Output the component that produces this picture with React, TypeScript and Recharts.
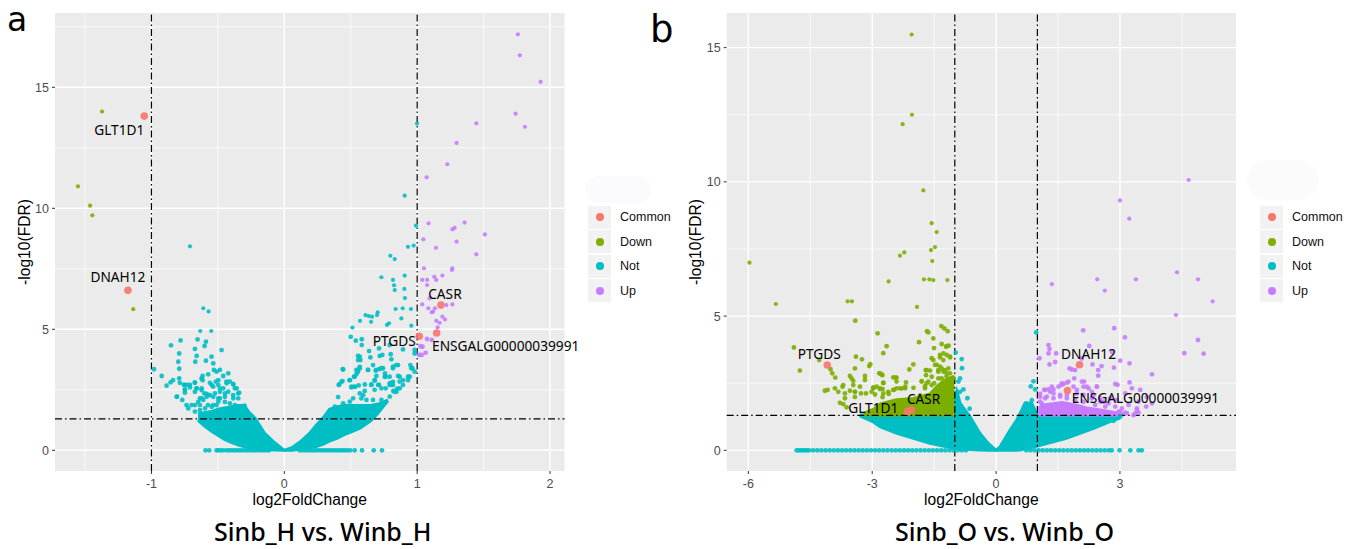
/**
 * Two volcano plots. Outlying genes are read point by point; the overplotted
 * mass of each wing, where single points can't be told apart, is read as an
 * envelope (x, lower, upper) and drawn as a range Area.
 */

import { Area, CartesianGrid, ComposedChart, Legend, ReferenceLine, Scatter, XAxis, YAxis } from 'recharts';

type Pair = number[];

const COLORS: Record<string, string> = { Common: '#F8766D', Down: '#7CAE00', Not: '#00BFC4', Up: '#C77CFF' };
const LEGEND_NAMES = ['Common', 'Down', 'Not', 'Up'];

// Panel a: Sinb_H vs. Winb_H
const A_X_TICKS = [-1, 0, 1, 2];
const A_X_MINOR = [-1.5, -0.5, 0.5, 1.5];
const A_Y_TICKS = [0, 5, 10, 15];
const A_Y_MINOR = [2.5, 7.5, 12.5, 17.5];
const A_DOWN: Pair[] = [[-1.372, 14.0], [-1.553, 10.91], [-1.462, 10.11], [-1.445, 9.71], [-1.137, 5.83]];
const A_UP: Pair[] = [
  [1.758, 17.19], [1.773, 16.32], [1.929, 15.22], [1.741, 13.91], [1.811, 13.37], [1.445, 13.51], [1.297, 12.7],
  [1.227, 11.82], [1.071, 11.28], [1.086, 9.38], [1.357, 9.41], [1.282, 9.19], [1.265, 9.13], [1.51, 8.92],
  [1.047, 8.72], [1.297, 8.62], [1.141, 8.37], [1.445, 8.1], [1.051, 7.52], [1.265, 7.52], [1.19, 7.22],
  [1.262, 7.45], [1.129, 7.17], [1.038, 7.04], [1.075, 7.04], [1.143, 7.04], [1.075, 6.83], [1.094, 6.28],
  [1.038, 6.03], [1.22, 6.0], [1.265, 6.03], [1.084, 5.87], [1.134, 5.87], [1.12, 5.73], [1.11, 5.7],
  [1.19, 5.52], [1.209, 5.41], [1.144, 5.35], [1.169, 5.27], [1.154, 5.08], [1.074, 4.6], [1.11, 4.56],
  [1.04, 4.28], [1.024, 4.3], [1.064, 4.03], [1.034, 3.94], [1.014, 3.94],
];
const A_NOT_RIGHT: Pair[] = [
  [0.999, 13.5], [0.906, 10.52], [0.991, 9.28], [0.974, 8.46], [0.931, 8.41], [0.798, 8.04], [0.831, 7.9],
  [0.731, 7.15], [0.906, 7.22], [0.818, 7.04], [0.826, 6.82], [0.831, 6.62], [0.904, 6.67], [0.908, 6.29],
  [0.838, 5.84], [0.891, 5.87], [0.953, 5.84], [0.703, 5.7], [0.611, 5.59], [0.635, 5.55], [0.66, 5.52], [0.698, 5.59],
  [0.57, 5.35], [0.653, 5.31], [0.773, 5.18], [0.788, 5.25], [0.881, 5.45], [0.956, 5.15], [0.513, 5.07], [0.5, 4.69],
  [0.538, 4.53], [0.583, 4.59], [0.583, 4.35], [0.638, 4.1], [0.713, 4.21], [0.793, 4.35], [0.893, 4.17], [0.981, 4.15],
  [0.555, 3.9], [0.573, 3.73], [0.648, 3.84], [0.718, 3.9], [0.738, 3.94], [0.801, 3.97], [0.806, 3.76], [0.981, 4.0],
  [0.44, 3.35], [0.568, 3.45], [0.555, 3.32], [0.543, 3.15], [0.525, 3.04], [0.492, 2.9], [0.43, 2.83], [0.41, 2.7],
  [0.63, 3.32], [0.688, 3.29], [0.718, 3.36], [0.743, 3.39], [0.758, 3.18], [0.693, 3.07], [0.68, 2.88], [0.655, 2.7],
  [0.713, 2.7], [0.763, 3.04], [0.793, 3.04], [0.806, 2.77], [0.793, 2.7], [0.818, 2.7], [0.856, 3.07], [0.843, 3.52],
  [0.818, 3.46], [0.949, 3.52], [0.964, 3.39], [0.981, 3.25], [0.931, 3.04], [0.868, 2.84], [0.893, 2.7], [0.505, 2.6],
  [0.53, 2.62], [0.56, 2.68], [0.605, 2.45], [0.68, 2.5], [0.82, 2.45], [0.85, 2.55],
  [0.405, 2.2], [0.443, 1.94], [0.493, 2.01], [0.568, 2.35], [0.593, 2.28], [0.618, 2.08], [0.58, 2.15], [0.668, 2.08],
  [0.731, 2.08], [0.518, 2.15], [0.38, 1.8], [0.794, 2.22], [0.831, 2.42], [0.869, 2.56], [0.413, 2.72], [0.438, 2.86],
  [0.493, 2.9], [0.53, 3.04], [0.555, 3.25], [0.568, 3.39], [0.543, 3.32], [0.443, 3.34], [0.555, 3.73], [0.568, 3.87],
  [0.63, 3.32], [0.668, 3.52], [0.693, 3.32], [0.731, 3.39], [0.756, 3.04], [0.681, 2.9], [0.706, 2.7], [0.731, 2.56],
  [0.794, 2.77], [0.806, 2.7], [0.818, 2.83], [0.869, 3.04], [0.894, 2.9], [0.931, 2.9], [0.856, 3.52], [0.818, 3.39],
  [0.53, 2.63], [0.505, 2.63], [0.606, 2.72], [0.656, 2.72], [0.763, 2.56], [0.844, 2.42], [0.944, 3.04], [0.956, 3.39],
];
const A_NOT_LEFT: Pair[] = [
  [-0.71, 8.43], [-0.981, 3.35], [-0.923, 3.07], [-0.886, 2.67], [-0.856, 2.81], [-0.838, 2.9], [-0.853, 4.34], [-0.781, 4.54],
  [-0.791, 4.0], [-0.798, 3.66], [-0.791, 3.37], [-0.791, 2.97], [-0.786, 2.79], [-0.756, 2.7], [-0.728, 2.7],
  [-0.71, 2.6], [-0.748, 2.52], [-0.748, 2.38], [-0.808, 2.22], [-0.768, 2.08], [-0.736, 1.87], [-0.723, 1.73],
  [-0.673, 1.87], [-0.61, 5.87], [-0.57, 5.74], [-0.633, 4.93], [-0.55, 4.93], [-0.653, 4.58], [-0.59, 4.49],
  [-0.6, 4.31], [-0.673, 4.19], [-0.472, 4.14], [-0.66, 3.9], [-0.548, 3.87], [-0.67, 3.66], [-0.59, 3.7],
  [-0.535, 3.59], [-0.53, 3.32], [-0.573, 3.14], [-0.615, 3.07], [-0.623, 2.97], [-0.615, 2.9], [-0.51, 3.25],
  [-0.485, 3.32], [-0.422, 3.18], [-0.46, 3.07], [-0.497, 2.9], [-0.515, 2.84], [-0.435, 2.84], [-0.41, 2.84],
  [-0.56, 2.79], [-0.535, 2.63], [-0.673, 2.79], [-0.66, 2.56], [-0.673, 2.42], [-0.623, 2.49], [-0.485, 2.56],
  [-0.385, 2.74], [-0.372, 2.56], [-0.34, 2.38], [-0.447, 2.35], [-0.585, 2.33], [-0.56, 2.28], [-0.635, 2.15],
  [-0.61, 2.08], [-0.347, 2.15], [-0.385, 2.28], [-0.485, 2.15], [-0.497, 2.01], [-0.41, 1.94], [-0.535, 1.87],
  [-0.575, 1.87], [-0.635, 1.87], [-0.3, 1.85], [-0.32, 1.65],
  [-0.81, 2.21], [-0.698, 1.87], [-0.648, 2.0], [-0.622, 2.15], [-0.585, 2.21], [-0.535, 2.21], [-0.497, 2.15],
  [-0.447, 2.21], [-0.384, 2.15], [-0.51, 1.87], [-0.447, 2.0], [-0.372, 1.87], [-0.322, 1.8], [-0.597, 1.73],
  [-0.547, 1.8], [-0.673, 1.6], [-0.635, 1.66], [-0.497, 2.7], [-0.434, 2.77], [-0.46, 2.56], [-0.485, 2.42],
  [-0.422, 2.42], [-0.547, 2.7], [-0.622, 2.56], [-0.66, 2.56], [-0.673, 2.81], [-0.748, 2.7], [-0.71, 2.7],
  [-0.748, 2.49], [-0.359, 2.56], [-0.384, 2.72], [-0.347, 2.35], [-0.572, 2.28], [-0.602, 2.35], [-0.522, 2.35],
];
const A_ZERO_X = [
  -0.593, -0.565, -0.51, -0.497, -0.48, -0.46, -0.435, -0.415, -0.395, -0.375, -0.355, -0.335, -0.315, -0.295, -0.275,
  -0.255, -0.235, -0.215, -0.195, -0.175, -0.155, -0.135, -0.115, 0.115, 0.135, 0.155, 0.175, 0.195, 0.215, 0.235,
  0.255, 0.275, 0.295, 0.315, 0.335, 0.355, 0.375, 0.395, 0.415, 0.435, 0.455, 0.475, 0.497, 0.53, 0.585, 0.673, 0.735,
];
const A_COMMON = [
  { name: 'GLT1D1', x: -1.054, y: 13.81 },
  { name: 'DNAH12', x: -1.177, y: 6.61 },
  { name: 'CASR', x: 1.179, y: 6.0 },
  { name: 'PTGDS', x: 1.016, y: 4.71 },
  { name: 'ENSGALG00000039991', x: 1.147, y: 4.85 },
];
// x, lower edge, upper edge of the solid mass
const A_NOT_MASS: Pair[] = [
  [-0.65, 1.25, 1.5], [-0.6, 1.0, 1.55], [-0.55, 0.8, 1.6], [-0.5, 0.62, 1.7], [-0.45, 0.45, 1.75], [-0.4, 0.33, 1.8],
  [-0.35, 0.23, 1.85], [-0.3, 0.15, 1.85], [-0.27, 0.11, 1.6], [-0.22, 0.07, 1.33], [-0.15, 0.03, 0.71], [-0.07, 0.01, 0.3],
  [0, 0, 0], [0.06, 0, 0.12], [0.12, 0.05, 0.35], [0.19, 0.1, 0.7], [0.24, 0.16, 1.04], [0.29, 0.25, 1.32], [0.34, 0.38, 1.7],
  [0.4, 0.5, 1.8], [0.45, 0.65, 1.85], [0.5, 0.75, 1.85], [0.57, 0.91, 1.85], [0.65, 1.22, 1.85], [0.7, 1.5, 1.9],
  [0.75, 1.85, 2.0], [0.78, 2.05, 2.08],
];

// Panel b: Sinb_O vs. Winb_O
const B_X_TICKS = [-6, -3, 0, 3];
const B_X_MINOR = [-4.5, -1.5, 1.5, 4.5];
const B_Y_TICKS = [0, 5, 10, 15];
const B_Y_MINOR = [2.5, 7.5, 12.5];
const B_DOWN: Pair[] = [
  [-2.045, 15.49], [-2.037, 12.5], [-2.263, 12.15], [-1.762, 9.68], [-1.56, 8.46], [-1.439, 8.13], [-1.479, 7.57],
  [-1.576, 7.46], [-2.223, 7.37], [-2.328, 7.25], [-1.544, 7.05], [-5.972, 6.99], [-1.746, 6.37], [-1.616, 6.37],
  [-1.52, 6.34], [-1.18, 6.34], [-2.602, 6.29], [-5.334, 5.45], [-3.596, 5.55], [-3.491, 5.55], [-1.915, 5.34],
  [-3.41, 4.83], [-1.326, 4.63], [-1.253, 4.54], [-1.172, 4.44], [-1.673, 4.44], [-1.641, 4.39], [-2.869, 4.36],
  [-1.52, 4.17], [-1.867, 4.03], [-1.318, 3.96], [-1.196, 3.88], [-1.148, 3.9], [-1.503, 3.81], [-2.651, 3.88],
  [-4.897, 3.83], [-2.732, 3.62], [-3.394, 3.49], [-3.249, 3.39], [-4.283, 3.36], [-4.752, 2.97], [-3.047, 3.21],
  [-3.071, 3.14], [-4.009, 3.02], [-3.968, 2.87], [-3.895, 2.71], [-3.419, 3.05], [-2.813, 2.87], [-2.772, 2.83],
  [-3.176, 2.77], [-3.54, 2.77], [-3.5, 2.68], [-3.459, 2.59], [-3.176, 2.62], [-2.732, 2.52], [-2.489, 2.72],
  [-2.41, 2.71], [-2.41, 2.56], [-2.101, 3.01], [-2.004, 3.2], [-1.802, 2.56], [-1.705, 2.99], [-1.6, 2.97],
  [-1.722, 2.39], [-1.641, 2.56], [-1.56, 3.43], [-1.358, 3.46], [-1.277, 3.36], [-1.196, 3.55], [-1.116, 3.49],
  [-1.439, 3.18], [-1.398, 2.99], [-1.237, 2.99], [-1.318, 3.05], [-1.116, 2.87], [-1.035, 2.68], [-3.702, 2.43],
  [-3.718, 2.37], [-3.903, 2.31], [-3.822, 2.18], [-3.54, 2.22], [-3.419, 2.18], [-3.297, 2.37], [-4.146, 2.22],
  [-4.081, 2.25], [-3.661, 2.12], [-3.661, 1.94], [-3.419, 1.99], [-3.782, 1.77], [-3.701, 1.72], [-2.974, 2.34],
  [-2.893, 2.37], [-2.813, 2.28], [-2.748, 2.28], [-3.014, 2.18], [-3.62, 1.6], [-2.48, 2.25], [-2.32, 2.31],
  [-2.2, 2.37], [-2.0, 2.33], [-1.84, 2.05], [-2.6, 2.1], [-2.75, 1.98], [-1.5, 2.5], [-1.2, 2.75], [-1.4, 2.3],
  [-2.973, 2.31], [-2.812, 2.31], [-2.731, 2.5], [-2.828, 2.87], [-2.755, 2.8], [-2.448, 2.71], [-2.408, 2.31],
  [-2.286, 2.31], [-2.206, 2.31], [-2.181, 2.53], [-1.802, 2.58], [-1.68, 2.99], [-1.697, 2.8], [-1.559, 2.74],
  [-1.68, 2.5], [-1.559, 2.43], [-1.721, 2.31], [-1.398, 2.93], [-1.276, 2.93], [-1.155, 3.05], [-1.398, 2.68],
  [-1.317, 2.68], [-1.236, 2.56], [-1.478, 3.18], [-1.357, 3.12], [-1.195, 2.87], [-1.519, 3.36], [-1.357, 3.55],
  [-1.276, 3.61], [-1.115, 3.46], [-1.212, 3.86], [-3.458, 2.43], [-3.418, 2.18], [-3.272, 2.12], [-3.151, 2.12],
  [-2.933, 2.08], [-2.731, 2.12], [-2.61, 2.18], [-2.489, 2.25],
];
const B_UP: Pair[] = [
  [4.663, 10.07], [3.0, 9.31], [3.224, 8.63], [1.35, 6.19], [2.449, 6.37], [3.386, 6.37], [4.38, 6.63], [4.889, 6.37],
  [2.634, 5.95], [5.245, 5.55], [4.356, 5.04], [2.109, 4.47], [2.861, 4.55], [3.119, 4.21], [4.889, 4.11], [2.255, 3.89],
  [1.269, 3.92], [1.293, 3.77], [1.269, 3.61], [1.455, 3.61], [2.804, 3.67], [4.558, 3.62], [5.026, 3.6], [1.05, 3.43],
  [1.43, 3.29], [1.293, 3.2], [2.077, 3.42], [2.335, 3.2], [2.554, 3.14], [2.473, 2.99], [2.473, 2.78], [2.853, 3.08],
  [3.006, 3.34], [3.232, 3.24], [3.774, 2.83], [1.778, 3.05], [1.834, 3.01], [1.915, 2.99], [1.891, 2.68], [2.133, 2.56],
  [3.232, 2.53], [2.885, 2.47], [2.941, 2.44], [1.753, 2.56], [1.632, 2.47], [1.576, 2.43], [1.349, 2.37], [1.269, 2.27],
  [1.164, 2.25], [1.067, 2.1], [2.117, 2.37], [2.238, 2.31], [2.44, 2.37], [1.956, 2.25], [3.289, 2.31], [3.491, 2.25],
  [3.127, 2.12], [3.653, 1.99], [3.774, 1.75], [3.45, 1.81], [3.636, 1.63], [3.41, 1.56], [3.329, 1.31], [3.45, 1.4],
  [3.006, 1.44], [3.127, 1.4], [2.602, 1.81], [2.764, 1.94], [2.925, 1.87], [2.36, 2.06], [2.52, 1.94], [1.39, 2.12],
  [1.551, 2.06], [1.713, 2.06], [1.107, 1.75], [1.228, 2.0],
  [1.067, 2.0], [1.188, 2.25], [1.309, 2.18], [1.39, 2.27], [1.592, 2.49], [1.713, 2.52], [1.511, 2.37], [1.875, 2.37],
  [2.077, 2.56], [2.198, 2.37], [2.441, 2.37], [1.956, 2.12], [2.117, 2.06], [2.319, 2.18], [1.067, 1.81], [1.188, 1.94],
  [1.39, 1.94], [1.552, 2.0], [1.713, 1.94], [1.915, 1.87], [2.117, 1.81], [2.319, 1.94], [2.521, 1.81], [2.723, 1.75],
  [2.885, 1.63], [3.047, 1.56], [3.208, 1.69], [3.41, 1.5], [3.37, 1.38], [2.966, 1.44], [2.643, 1.63], [2.4, 1.69],
  [3.168, 1.38],
];
const B_NOT: Pair[] = [
  [0.97, 4.39], [0.905, 2.57], [0.84, 2.38], [0.945, 2.27], [0.865, 1.87], [0.727, 1.75], [0.679, 1.62],
  [-0.978, 3.64], [-0.833, 3.4], [-0.825, 3.06], [-0.873, 2.68], [-0.913, 2.56], [-0.792, 2.27], [-0.873, 2.18],
  [-0.695, 1.94], [-0.64, 1.55], [2.844, 1.1], [3.006, 1.25],
];
const B_ZERO_X = [
  -4.83, -4.78, -4.73, -4.68, -4.63, -4.58, -4.53, -4.43, -4.33, -4.23, -4.13, -4.03, -3.93, -3.83, -3.73, -3.63, -3.53,
  -3.43, -3.33, -3.23, -3.13, -3.03, -2.93, -2.83, -2.73, -2.63, -2.53, -2.43, -2.33, -2.23, -2.13, -2.03, -1.93, -1.83,
  -1.73, -1.63, -1.53, -1.43, -1.33, -1.23, -1.13, -1.03, -0.93, -0.83, -0.73, 0.73, 0.83, 0.93, 1.03, 1.13, 1.23, 1.33,
  1.43, 1.53, 1.63, 1.73, 1.83, 1.93, 2.03, 2.13, 2.23, 2.33, 2.43, 2.53, 2.63, 2.73, 2.8, 2.99, 3.25, 3.45, 3.53,
];
const B_COMMON = [
  { name: 'PTGDS', x: -4.089, y: 3.18 },
  { name: 'GLT1D1', x: -2.15, y: 1.45 },
  { name: 'CASR', x: -2.045, y: 1.5 },
  { name: 'DNAH12', x: 2.02, y: 3.19 },
  { name: 'ENSGALG00000039991', x: 1.729, y: 2.23 },
];
const B_NOT_MASS: Pair[] = [
  [-3.3, 1.28, 1.32], [-3.0, 1.08, 1.32], [-2.8, 0.87, 1.32], [-2.4, 0.63, 1.32], [-2.0, 0.45, 1.32], [-1.6, 0.26, 1.32],
  [-1.2, 0.13, 1.32], [-1.0, 0.09, 1.9], [-0.95, 0.08, 2.2], [-0.87, 0.06, 1.75], [-0.63, 0.03, 1.25], [-0.39, 0.01, 0.63],
  [-0.19, 0, 0.26], [0, 0, 0], [0.1, 0, 0.14], [0.34, 0, 0.76], [0.5, 0, 1.13], [0.62, 0.02, 1.5], [0.7, 0.07, 1.75],
  [0.86, 0.1, 1.75], [1.0, 0.16, 1.32], [1.7, 0.45, 1.32], [2.36, 0.82, 1.32], [2.76, 1.07, 1.3], [3.0, 1.2, 1.34],
];
const B_DOWN_MASS: Pair[] = [
  [-3.2, 1.3, 1.4], [-2.97, 1.3, 1.55], [-2.81, 1.3, 1.75], [-2.41, 1.3, 1.9], [-2.0, 1.3, 1.95], [-1.6, 1.3, 2.12],
  [-1.44, 1.3, 2.4], [-1.28, 1.3, 2.6], [-1.12, 1.3, 2.72], [-1.01, 1.3, 2.78],
];
const B_UP_MASS: Pair[] = [
  [1.02, 1.3, 1.55], [1.1, 1.3, 1.7], [1.6, 1.3, 1.8], [1.95, 1.3, 1.7], [2.2, 1.3, 1.6], [2.6, 1.3, 1.5], [3.1, 1.3, 1.36],
];

const LABEL_OFFSETS_A: Record<string, number[]> = {
  GLT1D1: [-25, 13], DNAH12: [-10, -14], CASR: [4, -12], PTGDS: [-25, 4], ENSGALG00000039991: [69, 13],
};
const LABEL_OFFSETS_B: Record<string, number[]> = {
  PTGDS: [-8, -11], GLT1D1: [-34, -4], CASR: [12, -12], DNAH12: [9, -11], ENSGALG00000039991: [78, 7],
};

const toPoints = (pairs: Pair[]) => pairs.map(([x, y]) => ({ x, y }));
const toBand = (rows: Pair[]) => rows.map(([x, lo, hi]) => ({ x, band: [lo, hi] }));

function dot(color: string, r: number) {
  return (p: any) => <circle cx={p.cx} cy={p.cy} r={p.payload.y > 4.9 ? r - 0.3 : r} fill={color} fillOpacity={0.9} />;
}

function labelledDot(offsets: Record<string, number[]>) {
  return (p: any) => {
    const [dx, dy] = offsets[p.name] ?? [0, 0];
    return (
      <g>
        <circle cx={p.cx} cy={p.cy} r={3.8} fill={COLORS.Common} fillOpacity={0.9} />
        <text
          x={p.cx + dx}
          y={p.cy + dy}
          textAnchor="middle"
          dominantBaseline="central"
          fontFamily="'Noto Sans'"
          fontSize={13.7}
          fill="#000"
        >
          {p.name}
        </text>
      </g>
    );
  };
}

function LegendBox() {
  return (
    <div>
      {LEGEND_NAMES.map((name) => (
        <div key={name} style={{ display: 'flex', alignItems: 'center', height: 24.5 }}>
          <div
            style={{
              width: 23,
              height: 23,
              background: '#F2F2F2',
              display: 'flex',
              alignItems: 'center',
              justifyContent: 'center',
            }}
          >
            <div style={{ width: 8, height: 8, borderRadius: 4, background: COLORS[name] }} />
          </div>
          <span style={{ marginLeft: 9, fontSize: 12.5, color: '#111', fontFamily: "'Liberation Sans'" }}>{name}</span>
        </div>
      ))}
    </div>
  );
}

interface PanelProps {
  left: number;
  width: number;
  plotLeft: number;
  plotRight: number;
  xDomain: number[];
  yDomain: number[];
  xTicks: number[];
  xMinor: number[];
  yTicks: number[];
  yMinor: number[];
  notMass: Pair[];
  downMass?: Pair[];
  upMass?: Pair[];
  down: Pair[];
  up: Pair[];
  not: Pair[];
  zeroX: number[];
  common: { name: string; x: number; y: number }[];
  offsets: Record<string, number[]>;
  legendLeft: number;
  r: number;
}

function Panel(props: PanelProps) {
  const { xDomain, yDomain, xTicks, xMinor, yTicks, yMinor, r } = props;
  const zero = props.zeroX.map((x) => ({ x, y: 0 }));
  const tickStyle = { fill: '#4D4D4D', fontSize: 12.5, fontFamily: "'Liberation Sans'" };
  const titleStyle = { fill: '#000', fontSize: 15.6, fontFamily: "'Liberation Sans'" };
  return (
    <div style={{ position: 'absolute', left: props.left, top: 0 }}>
      <ComposedChart
        width={props.width}
        height={549}
        margin={{ left: props.plotLeft - 40, right: props.width - props.plotRight, top: 13, bottom: 48 }}
      >
        <CartesianGrid fill="#EBEBEB" stroke="#FFFFFF" strokeWidth={0.7} horizontalValues={yMinor} verticalValues={xMinor} />
        <CartesianGrid stroke="#FFFFFF" strokeWidth={1.4} horizontalValues={yTicks} verticalValues={xTicks} />
        <XAxis
          dataKey="x"
          type="number"
          domain={xDomain}
          ticks={xTicks}
          height={30}
          axisLine={false}
          tick={tickStyle}
          tickLine={{ stroke: '#333333' }}
          tickSize={3}
          tickMargin={5}
          label={{ value: 'log2FoldChange', position: 'insideBottom', offset: -4, style: titleStyle }}
        />
        <YAxis
          dataKey="y"
          type="number"
          domain={yDomain}
          ticks={yTicks}
          width={40}
          axisLine={false}
          tick={tickStyle}
          tickLine={{ stroke: '#333333' }}
          tickSize={3}
          tickMargin={3}
          label={{ value: '-log10(FDR)', angle: -90, position: 'insideLeft', offset: 9, style: { ...titleStyle, textAnchor: 'middle' } }}
        />
        <Area
          data={toBand(props.notMass)}
          dataKey="band"
          type="linear"
          fill={COLORS.Not}
          fillOpacity={1}
          stroke={COLORS.Not}
          strokeWidth={3}
          dot={false}
          activeDot={false}
          isAnimationActive={false}
        />
        {props.downMass && (
          <Area
            data={toBand(props.downMass)}
            dataKey="band"
            type="linear"
            fill={COLORS.Down}
            fillOpacity={1}
            stroke={COLORS.Down}
            strokeWidth={2}
            dot={false}
            activeDot={false}
            isAnimationActive={false}
          />
        )}
        {props.upMass && (
          <Area
            data={toBand(props.upMass)}
            dataKey="band"
            type="linear"
            fill={COLORS.Up}
            fillOpacity={1}
            stroke={COLORS.Up}
            strokeWidth={2}
            dot={false}
            activeDot={false}
            isAnimationActive={false}
          />
        )}
        <Scatter data={zero} name="Not" shape={dot(COLORS.Not, r)} isAnimationActive={false} />
        <Scatter data={toPoints(props.not)} name="Not" shape={dot(COLORS.Not, r)} isAnimationActive={false} />
        <Scatter data={toPoints(props.down)} name="Down" shape={dot(COLORS.Down, r)} isAnimationActive={false} />
        <Scatter data={toPoints(props.up)} name="Up" shape={dot(COLORS.Up, r)} isAnimationActive={false} />
        <ReferenceLine x={-1} stroke="#000" strokeWidth={1.2} strokeDasharray="7 3 1.5 3" />
        <ReferenceLine x={1} stroke="#000" strokeWidth={1.2} strokeDasharray="7 3 1.5 3" />
        <ReferenceLine y={1.3} stroke="#000" strokeWidth={1.2} strokeDasharray="7 3 1.5 3" />
        <Scatter data={props.common} name="Common" shape={labelledDot(props.offsets)} isAnimationActive={false} />
        <Legend
          layout="vertical"
          align="center"
          verticalAlign="middle"
          wrapperStyle={{ left: props.legendLeft, top: 205, width: 100 }}
          content={() => <LegendBox />}
        />
      </ComposedChart>
    </div>
  );
}

const textBase = { position: 'absolute', fontFamily: "'Noto Sans'", color: '#000', whiteSpace: 'nowrap' } as const;
const letterBase = { ...textBase, fontFamily: "'DejaVu Sans'" } as const;

export default function App() {
  return (
    <div style={{ position: 'absolute', left: 0, top: 0, width: 1356, height: 549, background: '#fff', overflow: 'hidden' }}>
      <div style={{ position: 'absolute', left: 585, top: 176, width: 66, height: 27, borderRadius: 14, background: '#FBFBFD' }} />
      <div style={{ position: 'absolute', left: 1247, top: 160, width: 72, height: 40, borderRadius: 20, background: '#FBFBFB' }} />
      <Panel
        left={0}
        width={680}
        plotLeft={55}
        plotRight={564.5}
        xDomain={[-1.726, 2.109]}
        yDomain={[-0.855, 18.07]}
        xTicks={A_X_TICKS}
        xMinor={A_X_MINOR}
        yTicks={A_Y_TICKS}
        yMinor={A_Y_MINOR}
        notMass={A_NOT_MASS}
        down={A_DOWN}
        up={A_UP}
        not={[...A_NOT_LEFT, ...A_NOT_RIGHT]}
        zeroX={A_ZERO_X}
        common={A_COMMON}
        offsets={LABEL_OFFSETS_A}
        legendLeft={588}
        r={2.4}
      />
      <Panel
        left={680}
        width={676}
        plotLeft={46.7}
        plotRight={556}
        xDomain={[-6.524, 5.81]}
        yDomain={[-0.77, 16.29]}
        xTicks={B_X_TICKS}
        xMinor={B_X_MINOR}
        yTicks={B_Y_TICKS}
        yMinor={B_Y_MINOR}
        notMass={B_NOT_MASS}
        downMass={B_DOWN_MASS}
        upMass={B_UP_MASS}
        down={B_DOWN}
        up={B_UP}
        not={B_NOT}
        zeroX={B_ZERO_X}
        common={B_COMMON}
        offsets={LABEL_OFFSETS_B}
        legendLeft={580}
        r={2.4}
      />
      <div style={{ ...letterBase, left: 7, top: 0, fontSize: 33 }}>a</div>
      <div style={{ ...letterBase, left: 650, top: 8, fontSize: 37 }}>b</div>
      <div style={{ ...textBase, left: 214, top: 514, fontSize: 25, fontWeight: 500 }}>Sinb_H vs. Winb_H</div>
      <div style={{ ...textBase, left: 895, top: 514, fontSize: 25, fontWeight: 500 }}>Sinb_O vs. Winb_O</div>
    </div>
  );
}
